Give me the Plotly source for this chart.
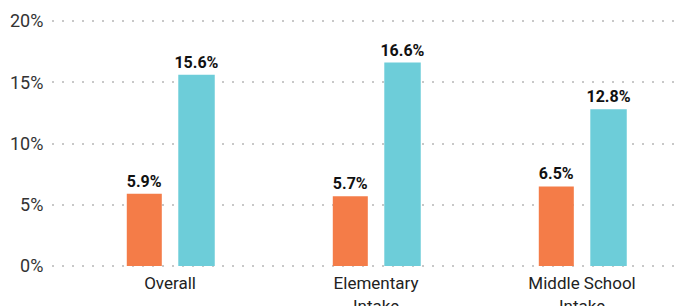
import plotly.graph_objects as go

categories = ["Overall", "Elementary<br>Intake", "Middle School<br>Intake"]
series_a = [5.9, 5.7, 6.5]
series_b = [15.6, 16.6, 12.8]
tick_vals = [0, 5, 10, 15, 20]
tick_text = ["0%", "5%", "10%", "15%", "20%"]

label_font = dict(family="Roboto", size=16, color="#111111", weight="bold")

fig = go.Figure()
fig.add_trace(go.Bar(
    x=categories, y=series_a, width=0.17, offset=-0.21,
    marker=dict(color="#F47C48", line=dict(width=0)),
    text=[f"{v:.1f}%" for v in series_a], textposition="outside",
    constraintext="none", textfont=label_font,
    cliponaxis=False, showlegend=False, hoverinfo="skip",
))
fig.add_trace(go.Bar(
    x=categories, y=series_b, width=0.177, offset=0.04,
    marker=dict(color="#6DCDD9", line=dict(width=0)),
    text=[f"{v:.1f}%" for v in series_b], textposition="outside",
    constraintext="none", textfont=label_font,
    cliponaxis=False, showlegend=False, hoverinfo="skip",
))

# page body adds an 8px margin, so figure is 675x298 placed at (8, 8)
fig.update_layout(
    width=675, height=298,
    margin=dict(l=44, r=0, t=8, b=35, autoexpand=False),
    paper_bgcolor="white", plot_bgcolor="white",
    barmode="overlay",
    font=dict(family="Roboto", size=16, color="#222222"),
    xaxis=dict(
        type="category", range=[-0.573, 2.49], automargin=False,
        showgrid=False, zeroline=False, showline=False,
        ticks="outside", ticklen=0, tickcolor="rgba(0,0,0,0)",
        ticklabelstandoff=-3,
        tickfont=dict(family="Roboto", size=17, color="#222222"),
    ),
    yaxis=dict(
        range=[-0.4, 20.4], tickvals=tick_vals, ticktext=tick_text,
        automargin=False,
        showgrid=True, gridcolor="#c8c8c8", gridwidth=2, griddash="2px,8px",
        zeroline=False, showline=False,
        ticks="outside", ticklen=4, tickcolor="rgba(0,0,0,0)",
        tickfont=dict(family="Roboto", size=18, color="#333333"),
    ),
)

fig.write_html("out.html")
